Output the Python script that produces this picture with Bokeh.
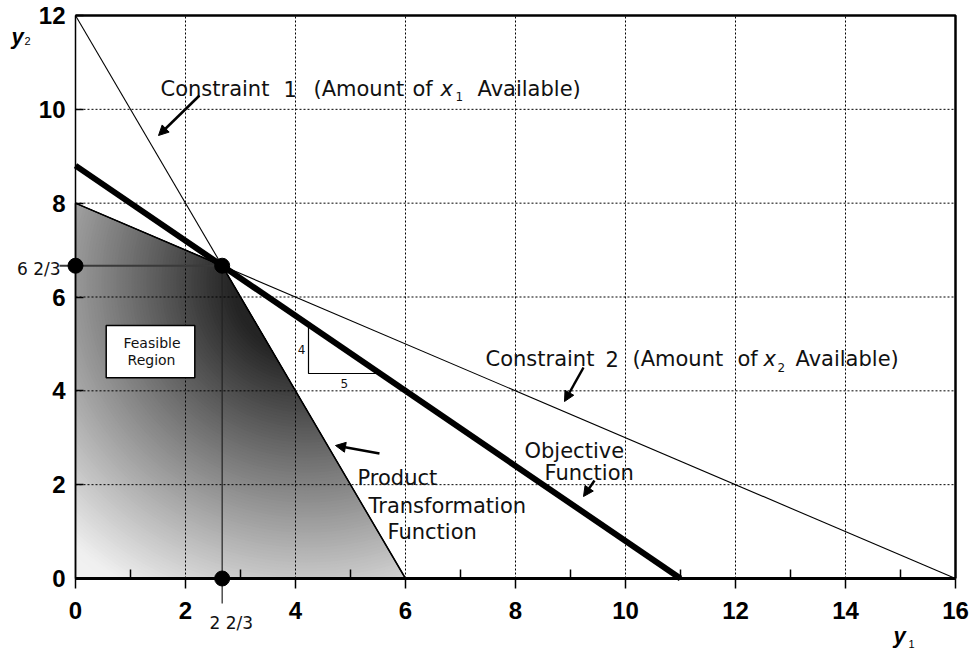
import numpy as np
from bokeh.plotting import figure
from bokeh.models import (FixedTicker, Label, Arrow, NormalHead, BoxAnnotation,
                          Range1d, ColumnDataSource)
from bokeh.embed import file_html
from bokeh.resources import INLINE

# ---------------- data ----------------
y1_ticks = [0, 2, 4, 6, 8, 10, 12, 14, 16]
y1_minor_ticks = [1, 3, 5, 7, 9, 11, 13, 15]
y2_ticks = [0, 2, 4, 6, 8, 10, 12]

constraint1_y1 = [0, 6]
constraint1_y2 = [12, 0]
constraint2_y1 = [0, 16]
constraint2_y2 = [8, 0]
objective_y1 = [0, 11]
objective_y2 = [8.8, 0]

feasible_y1 = [0, 6, 8 / 3, 0]
feasible_y2 = [0, 0, 20 / 3, 8]

optimum_y1 = 8 / 3
optimum_y2 = 20 / 3
marker_y1 = [0, optimum_y1, optimum_y1]
marker_y2 = [optimum_y2, optimum_y2, 0]

optimum_y1_label = "2 2/3"
optimum_y2_label = "6 2/3"
slope_rise_label = "4"
slope_run_label = "5"

# ---------------- layout ----------------
W, H = 970, 650                  # canvas; the data area is a sub-rectangle of it
LEFT_PX, BOTTOM_PX = 75, 578     # pixel position of (0, 0)
AREA_W, AREA_H = 880, 563        # pixel size of the 16 x 12 data area
X0, X1 = y1_ticks[0], y1_ticks[-1]
Y0, Y1 = y2_ticks[0], y2_ticks[-1]
SX = AREA_W / (X1 - X0)
SY = AREA_H / (Y1 - Y0)


def dx(px):
    return X0 + (px - LEFT_PX) / SX


def dy(py):
    return Y0 + (BOTTOM_PX - py) / SY


p = figure(frame_width=W, frame_height=H,
           x_range=Range1d(dx(0), dx(W)), y_range=Range1d(dy(H), dy(0)),
           min_border=0, min_border_left=0, min_border_right=0,
           min_border_top=0, min_border_bottom=0,
           output_backend="svg", toolbar_location=None, title=None)
p.background_fill_color = "white"
p.border_fill_color = "white"
p.outline_line_color = None
p.xgrid.visible = False
p.ygrid.visible = False

# ---------------- axes (pinned at y2 = 0 and y1 = 0) ----------------
p.xaxis.fixed_location = Y0
p.yaxis.fixed_location = X0
p.xaxis.bounds = (X0, X1)
p.yaxis.bounds = (Y0, Y1)
p.xaxis.ticker = FixedTicker(ticks=y1_ticks, minor_ticks=y1_minor_ticks)
p.yaxis.ticker = FixedTicker(ticks=y2_ticks)
for ax in (p.xaxis, p.yaxis):
    ax.major_label_text_font = "Liberation Sans"
    ax.major_label_text_font_style = "bold"
    ax.major_label_text_font_size = "24px"
    ax.major_label_text_color = "black"
    ax.axis_line_color = "black"
    ax.major_tick_line_color = "black"
    ax.minor_tick_line_color = "black"
    ax.major_tick_line_width = 1.5
    ax.minor_tick_line_width = 1.5
p.xaxis.axis_line_width = 3
p.xaxis.major_tick_out = 10
p.xaxis.major_tick_in = 0
p.xaxis.minor_tick_in = 9
p.xaxis.minor_tick_out = 0
p.xaxis.major_label_standoff = 13
p.yaxis.axis_line_width = 1.5
p.yaxis.major_tick_in = 8
p.yaxis.major_tick_out = 0
p.yaxis.minor_tick_in = 0
p.yaxis.minor_tick_out = 0
p.yaxis.major_label_standoff = 10

# dotted grid and the top / right frame lines
p.segment(x0=y1_ticks, y0=[Y0] * len(y1_ticks), x1=y1_ticks, y1=[Y1] * len(y1_ticks),
          line_color="black", line_width=1, line_dash="2 2", level="underlay")
p.segment(x0=[X0] * len(y2_ticks), y0=y2_ticks, x1=[X1] * len(y2_ticks), y1=y2_ticks,
          line_color="black", line_width=1, line_dash="2 2", level="underlay")
p.line([X0, X1, X1], [Y1, Y1, Y0], line_color="black", line_width=2.5)

# ---------------- shaded feasible region (radial shading) ----------------
def clip_convex(subject, clip):
    def inside(pt, a, b):
        return (b[0] - a[0]) * (pt[1] - a[1]) - (b[1] - a[1]) * (pt[0] - a[0]) >= 0

    def inter(s, e, a, b):
        dxs, dys = e[0] - s[0], e[1] - s[1]
        dxc, dyc = b[0] - a[0], b[1] - a[1]
        t = -(dxc * (s[1] - a[1]) - dyc * (s[0] - a[0])) / (dxc * dys - dyc * dxs)
        return (s[0] + t * dxs, s[1] + t * dys)

    out = list(subject)
    for i in range(len(clip)):
        a, b = clip[i], clip[(i + 1) % len(clip)]
        inp, out = out, []
        if not inp:
            break
        s = inp[-1]
        for e in inp:
            if inside(e, a, b):
                if not inside(s, a, b):
                    out.append(inter(s, e, a, b))
                out.append(e)
            elif inside(s, a, b):
                out.append(inter(s, e, a, b))
            s = e
    return out


poly_px = [((x - X0) * SX, (y - Y0) * SY) for x, y in zip(feasible_y1, feasible_y2)]
c_px = ((dx(306) - X0) * SX, (dy(282) - Y0) * SY)
angles = np.linspace(0, 2 * np.pi, 121)[:-1]
grad_d = [0, 75, 353, 430]
grad_v = [30, 36, 240, 246]
gx, gy, gc = [], [], []
for r in np.arange(430, 3, -3):
    circ = [(c_px[0] + r * np.cos(t), c_px[1] + r * np.sin(t)) for t in angles]
    cl = clip_convex(circ, poly_px)
    if len(cl) < 3:
        continue
    gx.append([X0 + q[0] / SX for q in cl])
    gy.append([Y0 + q[1] / SY for q in cl])
    v = int(round(np.interp(r, grad_d, grad_v)))
    gc.append("#%02x%02x%02x" % (v, v, v))
p.patches(xs="xs", ys="ys", fill_color="c", line_color=None, level="image",
          source=ColumnDataSource(dict(xs=gx, ys=gy, c=gc)))

# ---------------- lines ----------------
p.patch(feasible_y1, feasible_y2, fill_color=None, line_color="black", line_width=1.5)
p.line(constraint1_y1, constraint1_y2, line_color="black", line_width=1.1)
p.line(constraint2_y1, constraint2_y2, line_color="black", line_width=1.1)
p.line(objective_y1, objective_y2, line_color="black", line_width=6)

# guide lines to the optimum (extend a little beyond the axes)
ext_x = 16 / SX
ext_y = 25 / SY
p.segment(x0=[X0 - ext_x], y0=[optimum_y2], x1=[optimum_y1], y1=[optimum_y2],
          line_color="#3a3a3a", line_width=2, level="underlay")
p.segment(x0=[optimum_y1], y0=[optimum_y2], x1=[optimum_y1], y1=[Y0 - ext_y],
          line_color="#222222", line_width=1.2, level="underlay")

p.scatter(marker_y1, marker_y2, size=15, color="black")

# slope triangle (rise 4 / run 5) under the objective function
obj_slope = (objective_y2[1] - objective_y2[0]) / (objective_y1[1] - objective_y1[0])
corner_x, corner_y = dx(308), dy(373)
top_y = objective_y2[0] + obj_slope * (corner_x - objective_y1[0])
end_x = objective_y1[0] + (corner_y - objective_y2[0]) / obj_slope
p.line([corner_x, corner_x, end_x], [top_y, corner_y, corner_y],
       line_color="black", line_width=1.2)
p.add_layout(Label(x=corner_x, y=(top_y + corner_y) / 2, x_offset=-3,
                   text=slope_rise_label, text_align="right", text_baseline="middle",
                   text_font="DejaVu Sans", text_font_size="12px", text_color="#111111"))
p.add_layout(Label(x=(corner_x + end_x) / 2, y=corner_y, y_offset=-5,
                   text=slope_run_label, text_align="center", text_baseline="top",
                   text_font="DejaVu Sans", text_font_size="12px", text_color="#111111"))

# ---------------- feasible region box ----------------
p.add_layout(BoxAnnotation(left=dx(105.7), right=dx(194.3), bottom=dy(377.3), top=dy(325),
                           fill_color="white", fill_alpha=1.0,
                           line_color="black", line_width=1.5, line_alpha=1.0))


def add_text(txt, px, py, size=21, style="normal", align="left",
             baseline="alphabetic", font="DejaVu Sans", color="#111111"):
    p.add_layout(Label(x=dx(px), y=dy(py), text=txt, text_font=font,
                       text_font_size="%spx" % size, text_font_style=style,
                       text_align=align, text_baseline=baseline, text_color=color))


add_text("Feasible", 151.5, 342, size=14, align="center", baseline="middle")
add_text("Region", 151, 359, size=14, align="center", baseline="middle")

# Constraint 1
add_text("Constraint", 160, 88)
add_text("1", 283, 88)
add_text("(Amount", 313, 88)
add_text("of", 412, 88)
add_text("x", 440, 88, style="italic")
add_text("1", 455, 96, size=12)
add_text("Available)", 477, 88)

# Constraint 2
add_text("Constraint", 485, 358)
add_text("2", 605, 358)
add_text("(Amount", 632, 358)
add_text("of", 737, 358)
add_text("x", 763, 358, style="italic")
add_text("2", 777, 367, size=12)
add_text("Available)", 795, 358)

# Product transformation function
add_text("Product", 357, 477)
add_text("Transformation", 368, 505)
add_text("Function", 387, 531)

# Objective function
add_text("Objective", 524, 450)
add_text("Function", 544, 472)

# optimum coordinate labels
add_text(optimum_y2_label, 60, 268, size=17, align="right")
add_text(optimum_y1_label, 209, 622, size=17)

# axis titles
add_text("y", 11, 36, size=22, style="bold italic", font="Liberation Sans", color="black")
add_text("2", 24, 40, size=11, font="Liberation Sans", color="black")
add_text("y", 893, 635, size=22, style="bold italic", font="Liberation Sans", color="black")
add_text("1", 908, 643, size=11, font="Liberation Sans", color="black")

# ---------------- arrows ----------------
def add_arrow(tail, head):
    p.add_layout(Arrow(end=NormalHead(size=10, fill_color="black", line_color="black",
                                      line_width=1),
                       x_start=dx(tail[0]), y_start=dy(tail[1]),
                       x_end=dx(head[0]), y_end=dy(head[1]),
                       line_color="black", line_width=2.5))


add_arrow((199, 95), (158, 135))
add_arrow((379, 453), (335, 445))
add_arrow((583, 367), (564, 401))
add_arrow((594, 480), (583, 496))

open("out.html", "w").write(file_html(p, INLINE))
